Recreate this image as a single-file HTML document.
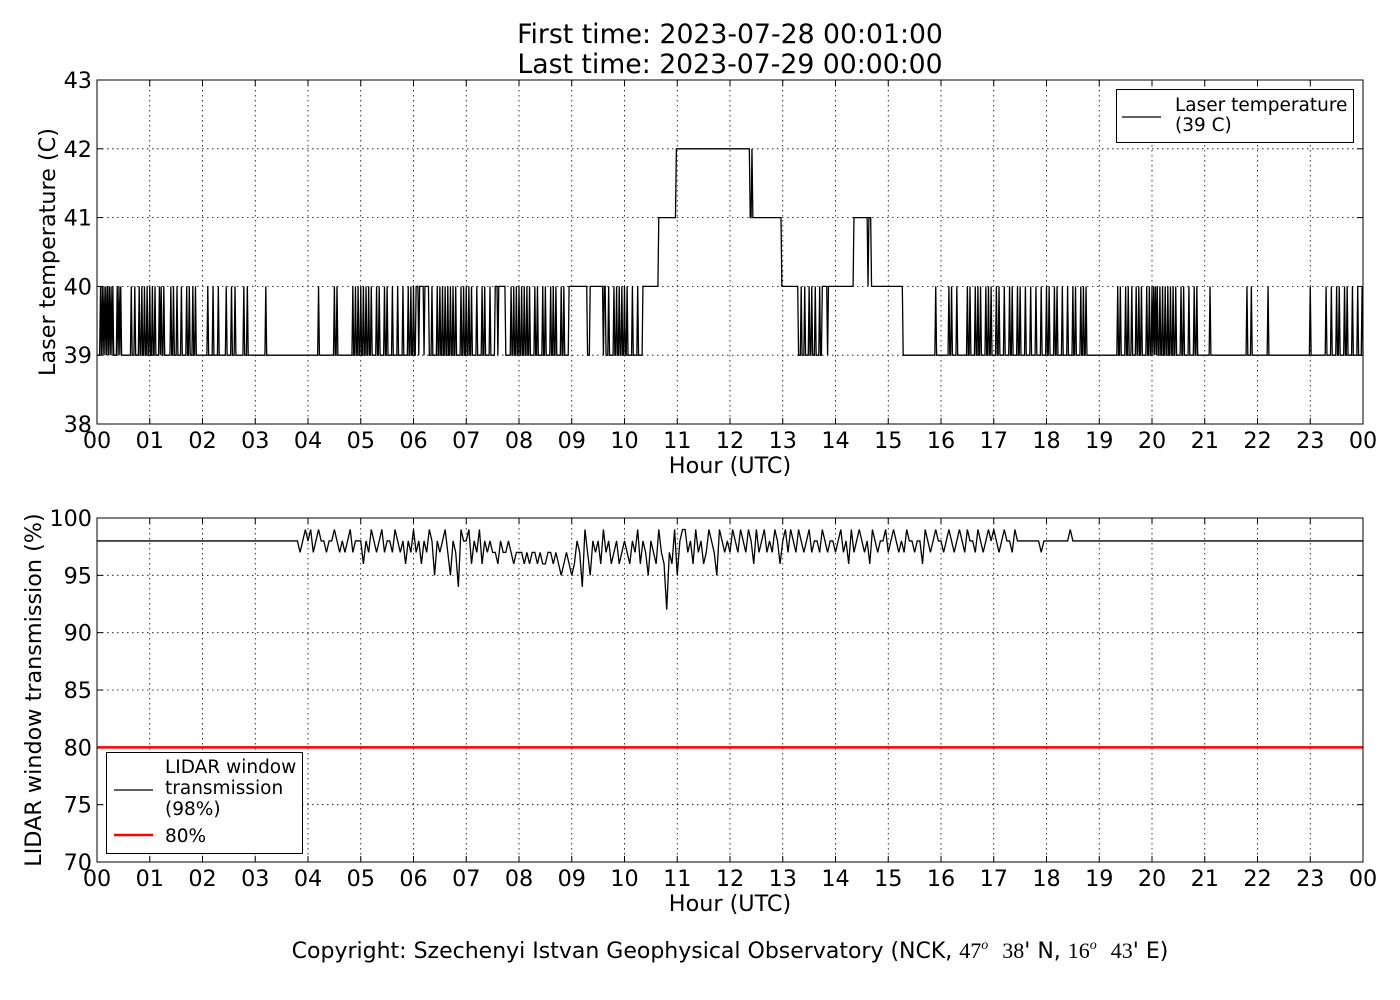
<!DOCTYPE html>
<html><head><meta charset="utf-8">
<style>
html,body{margin:0;padding:0;background:#fff;}
svg{display:block;font-family:"DejaVu Sans","Liberation Sans",sans-serif;}
</style></head>
<body>
<svg id="chart" width="1400" height="1000" viewBox="0 0 1400 1000" xmlns="http://www.w3.org/2000/svg">
<rect width="1400" height="1000" fill="#fff"/>
<text x="730" y="43" font-size="26.7" text-anchor="middle">First time: 2023-07-28 00:01:00</text>
<text x="730" y="73" font-size="26.7" text-anchor="middle">Last time: 2023-07-29 00:00:00</text>
<g id="top"></g>
<g id="bot"></g>
<text x="730" y="958" font-size="22" text-anchor="middle" xml:space="preserve">Copyright: Szechenyi Istvan Geophysical Observatory (NCK, <tspan font-family="Liberation Serif">47<tspan font-size="14" dy="-9" font-style="italic">o</tspan></tspan><tspan dy="9">  </tspan><tspan font-family="Liberation Serif">38</tspan>' N, <tspan font-family="Liberation Serif">16<tspan font-size="14" dy="-9" font-style="italic">o</tspan></tspan><tspan dy="9">  </tspan><tspan font-family="Liberation Serif">43</tspan>' E)</text>
</svg>
<script>
const NS="http://www.w3.org/2000/svg";
// ---- data ----
const hourLabels=["00","01","02","03","04","05","06","07","08","09","10","11","12","13","14","15","16","17","18","19","20","21","22","23","00"];
const tempTicks=[38,39,40,41,42,43];
const transTicks=[70,75,80,85,90,95,100];
const tempSegments=[[0,6.05,39],[6.05,6.3,40],[6.3,7.55,39],[7.55,7.75,40],[7.75,8.95,39],[8.95,9.3,40],[9.3,9.35,39],[9.35,9.65,40],[9.65,10.35,39],[10.35,10.65,40],[10.65,10.98,41],[10.98,12.37,42],[12.37,12.97,41],[12.97,13.3,40],[13.3,13.75,39],[13.75,14.35,40],[14.35,14.7,41],[14.7,15.28,40],[15.28,24.01,39]];
const tempPulsesUp=[0.07,0.1,0.14,0.17,0.2,0.24,0.27,0.3,0.38,0.42,0.45,0.65,0.72,0.8,0.85,0.9,0.95,1.0,1.05,1.1,1.18,1.22,1.26,1.4,1.45,1.52,1.6,1.7,1.75,1.82,1.87,2.1,2.2,2.3,2.45,2.55,2.62,2.78,2.85,3.2,4.2,4.5,4.55,4.85,4.9,4.95,5.0,5.05,5.1,5.15,5.2,5.3,5.35,5.45,5.5,5.6,5.7,5.8,5.9,5.95,6.0,6.35,6.45,6.5,6.55,6.6,6.65,6.7,6.75,6.8,6.9,6.95,7.0,7.05,7.1,7.2,7.3,7.35,7.45,7.85,7.9,7.95,8.0,8.05,8.1,8.15,8.2,8.3,8.35,8.45,8.5,8.6,8.65,8.7,8.8,8.85,9.7,9.8,9.85,9.9,9.95,10.0,10.05,10.15,10.25,12.42,13.35,13.42,13.5,13.55,13.62,13.7,15.9,16.15,16.2,16.3,16.5,16.55,16.65,16.7,16.75,16.85,16.9,16.95,17.05,17.1,17.2,17.3,17.35,17.45,17.5,17.6,17.7,17.8,17.9,18.0,18.05,18.15,18.2,18.3,18.4,18.5,18.55,18.65,18.7,18.75,19.35,19.4,19.5,19.55,19.62,19.7,19.75,19.8,19.9,19.95,20.0,20.03,20.07,20.1,20.15,20.2,20.25,20.3,20.35,20.4,20.45,20.55,20.6,20.7,20.8,20.85,21.1,21.8,21.88,22.2,23.0,23.3,23.4,23.5,23.55,23.65,23.7,23.8,23.9,23.98];
const tempPulsesDown=[6.1,6.2,7.6,9.6,13.85,14.62,14.68];
const transStart=3.8, transStep=0.05;
const transValues=[98,97,98,99,
98,99,97,98,99,98,98,97,98,98,99,98,97,98,97,98,99,97,98,98,
98,96,98,97,99,98,97,98,99,97,98,98,97,99,98,97,98,96,98,97,
99,97,98,96,98,97,99,98,95,98,97,98,99,97,95,98,97,94,99,98,
98,99,96,98,97,99,96,98,97,98,97,97,96,98,97,97,98,97,96,97,
97,97,96,97,96,97,97,96,97,96,96,97,97,96,97,96,95,96,97,96,
95,96,98,97,94,99,97,95,98,97,98,96,99,97,98,96,97,98,96,97,
98,97,96,98,97,99,96,98,97,95,98,97,96,99,97,96,92,97,96,99,
95,98,99,99,97,98,96,99,97,98,96,97,99,98,97,95,99,98,97,98,
97,99,98,97,99,98,97,99,98,96,99,97,98,99,97,98,97,99,98,96,
98,99,97,99,98,97,99,98,97,98,99,97,98,98,97,99,98,97,98,98,
97,98,99,97,98,96,99,97,98,99,98,97,98,96,99,98,97,98,98,99,
97,98,99,98,97,98,97,99,98,98,97,98,98,96,99,98,97,98,99,98,
98,97,98,99,98,97,98,99,98,97,99,98,98,97,99,98,97,98,99,98,
99,98,97,98,99,98,98,97,99,98,98,98,98,98,98,98,98,98,97,98,
98,98,98,98,98,98,98,98,98,99,98];
const transBase=98;
const thresholdValue=80;
// ---- layout ----
const X0=97,X1=1363;
function xs(h){return X0+(h/24)*(X1-X0);}
function mk(tag,attrs,parent){const e=document.createElementNS(NS,tag);for(const k in attrs)e.setAttribute(k,attrs[k]);parent.appendChild(e);return e;}
function panel(g,y0,y1,vmin,vmax,ticks,ylabel,ylabelX){
  const ys=v=>y1-(v-vmin)/(vmax-vmin)*(y1-y0);
  for(let i=0;i<hourLabels.length;i++){
    const x=xs(i);
    if(i>0&&i<24){const l=mk('line',{x1:x,x2:x,y1:y0,y2:y1,stroke:'#000','stroke-width':0.8,'stroke-dasharray':'1.5,3.5'},g);
    }
    mk('line',{x1:x,x2:x,y1:y1,y2:y1-6,stroke:'#000'},g);
    mk('line',{x1:x,x2:x,y1:y0,y2:y0+6,stroke:'#000'},g);
    const t=mk('text',{x:x,y:y1+24,'font-size':22.3,'text-anchor':'middle'},g);t.textContent=hourLabels[i];
    
  }
  ticks.forEach((v,i)=>{const y=ys(v);
    if(i>0&&i<ticks.length-1){const l=mk('line',{x1:X0,x2:X1,y1:y,y2:y,stroke:'#000','stroke-width':0.8,'stroke-dasharray':'1.5,3.5'},g);
    }
    mk('line',{x1:X0,x2:X0+6,y1:y,y2:y,stroke:'#000'},g);
    mk('line',{x1:X1,x2:X1-6,y1:y,y2:y,stroke:'#000'},g);
    const t=mk('text',{x:X0-5,y:y+8,'font-size':22.3,'text-anchor':'end'},g);t.textContent=v;
    
  });
  const xl=mk('text',{x:(X0+X1)/2,y:y1+49,'font-size':22.3,'text-anchor':'middle'},g);xl.textContent='Hour (UTC)';
  
  const yl=mk('text',{x:ylabelX,y:(y0+y1)/2,'font-size':22.3,'text-anchor':'middle',transform:`rotate(-90 ${ylabelX} ${(y0+y1)/2})`},g);yl.textContent=ylabel;
  
  return ys;
}
// top
const gt=document.getElementById('top');
const ysT=panel(gt,80,424,38,43,tempTicks,'Laser temperature (C)',55);
function baseAt(h){for(const s of tempSegments){if(h>=s[0]&&h<s[1])return s[2];}return 39;}
const upSet=new Set(tempPulsesUp.map(p=>Math.round(p*60)));
const dnSet=new Set(tempPulsesDown.map(p=>Math.round(p*60)));
let pts=[];
for(let m=1;m<=1440;m++){const h=m/60;let v=baseAt(h);if(upSet.has(m))v+=1;else if(dnSet.has(m))v-=1;pts.push(xs(h).toFixed(2)+','+ysT(v).toFixed(2));}
const lt=mk('polyline',{points:pts.join(' '),fill:'none',stroke:'#000','stroke-width':1.3},gt);

const fr1=mk('rect',{x:X0,y:80,width:X1-X0,height:344,fill:'none',stroke:'#000','stroke-width':1},gt);

const lg1=mk('g',{},gt);

mk('rect',{x:1116.5,y:89.5,width:237,height:53,fill:'#fff',stroke:'#000'},lg1);
mk('line',{x1:1122,x2:1161,y1:117,y2:117,stroke:'#000','stroke-width':1.3},lg1);
let t1=mk('text',{x:1175,y:111,'font-size':18.5},lg1);t1.textContent='Laser temperature';
let t2=mk('text',{x:1175,y:131,'font-size':18.5},lg1);t2.textContent='(39 C)';
// bottom
const gb=document.getElementById('bot');
const ysB=panel(gb,518,862,70,100,transTicks,'LIDAR window transmission (%)',41);
const th=mk('line',{x1:X0,x2:X1,y1:ysB(thresholdValue),y2:ysB(thresholdValue),stroke:'#ff0000','stroke-width':2.5},gb);

let bp=[xs(0)+','+ysB(transBase)];
transValues.forEach((v,i)=>{const h=transStart+i*transStep;bp.push(xs(h).toFixed(2)+','+ysB(v).toFixed(2));});
bp.push(xs(transStart+transValues.length*transStep)+','+ysB(transBase));
bp.push(xs(24)+','+ysB(transBase));
const lb=mk('polyline',{points:bp.join(' '),fill:'none',stroke:'#000','stroke-width':1.3},gb);

const fr2=mk('rect',{x:X0,y:518,width:X1-X0,height:344,fill:'none',stroke:'#000','stroke-width':1},gb);

const lg2=mk('g',{},gb);

mk('rect',{x:106.5,y:752.5,width:196,height:101,fill:'#fff',stroke:'#000'},lg2);
mk('line',{x1:114,x2:153,y1:790,y2:790,stroke:'#000','stroke-width':1.3},lg2);
[['LIDAR window',773],['transmission',794],['(98%)',815],['80%',842]].forEach(a=>{const t=mk('text',{x:165,y:a[1],'font-size':18.5},lg2);t.textContent=a[0];});
mk('line',{x1:114,x2:153,y1:835,y2:835,stroke:'#ff0000','stroke-width':2.5},lg2);
</script>
</body></html>
